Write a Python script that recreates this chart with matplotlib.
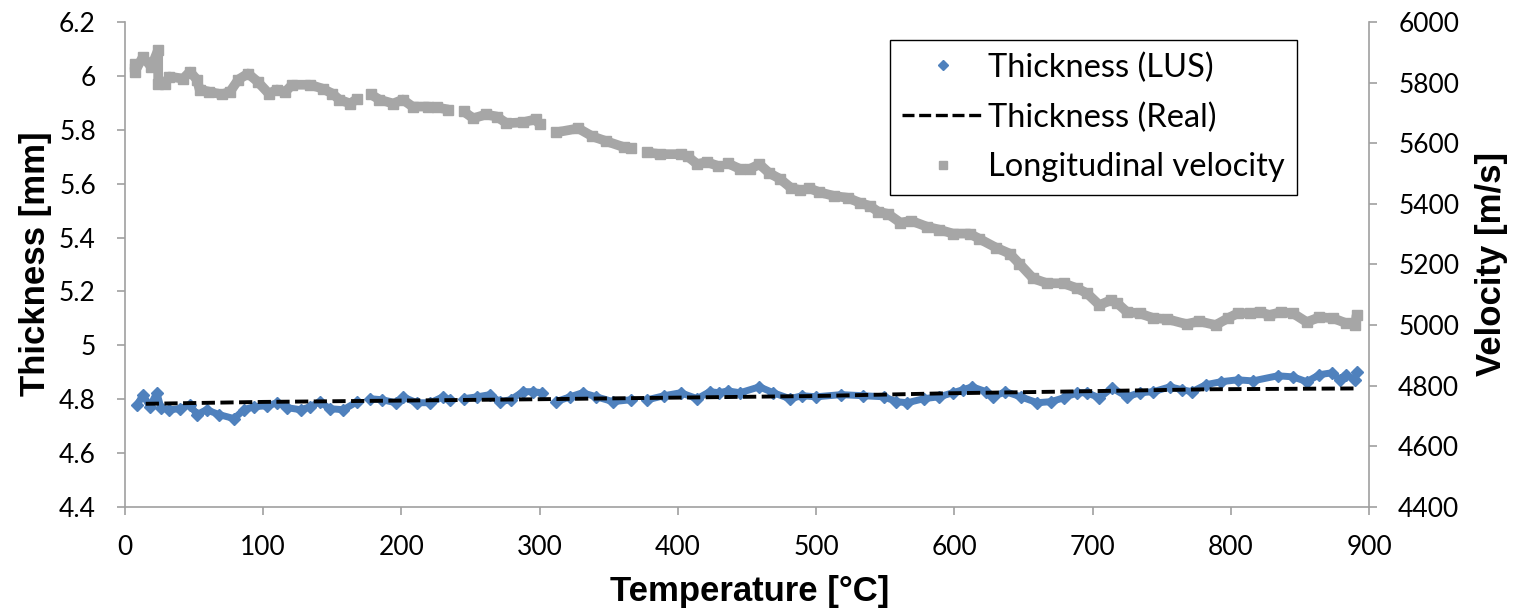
import numpy as np
import matplotlib
matplotlib.use("Agg")
import matplotlib.pyplot as plt
from matplotlib.lines import Line2D

# ---------------- data ----------------
vel_T = [7, 7, 13, 19, 24, 24, 29, 32, 42, 47, 52, 54, 61, 70, 76, 82, 89, 96, 104, 110,
         116, 121, 134, 143, 150, 155, 163, 168,
         178, 184, 194, 201, 208, 219, 226, 234,
         245, 252, 261, 269, 276, 288, 297, 300,
         312, 328, 338, 348, 361, 366,
         378, 387, 402, 407, 414, 421, 429,
         436, 445, 452, 459, 466, 474, 482, 488,
         495, 502, 513, 523, 532, 539, 545, 552, 561, 569, 580, 589, 599, 611, 618,
         630, 640, 647, 657, 667, 679, 689, 696, 705, 713, 718, 725, 734, 744, 754,
         768, 777, 789, 798, 805, 814, 821, 828, 836, 845, 855, 864, 874, 883, 890, 891]
vel_V = [5862, 5836, 5885, 5852, 5908, 5797, 5797, 5820, 5813, 5836, 5810, 5777, 5770, 5761,
         5770, 5810, 5830, 5803, 5764, 5777, 5770, 5793, 5793, 5780, 5764, 5744, 5731, 5747,
         5761, 5744, 5731, 5744, 5721, 5721, 5718, 5711,
         5705, 5682, 5695, 5688, 5666, 5669, 5679, 5662,
         5636, 5649, 5623, 5607, 5587, 5584,
         5570, 5564, 5564, 5557, 5531, 5538, 5525,
         5534, 5515, 5515, 5531, 5502, 5482, 5452, 5446,
         5452, 5439, 5426, 5420, 5403, 5393, 5374, 5367, 5338, 5344, 5325, 5315, 5302, 5302, 5285,
         5256, 5236, 5203, 5154, 5138, 5138, 5121, 5105, 5066, 5082, 5072, 5043, 5039, 5023, 5020,
         5003, 5013, 5000, 5023, 5039, 5039, 5043, 5033, 5043, 5039, 5010, 5026, 5023, 5007, 5000, 5033]
vel_gaps = [172, 239, 306, 371, 432, 491]

lus_T = [9, 13, 18, 23, 26, 32, 40, 47, 52, 59, 68, 79, 86, 93, 103, 110, 117, 127, 134, 141, 148, 158, 168,
         177, 186, 196, 201, 211, 221, 230, 235,
         245, 255, 264, 271, 279, 288, 295, 302,
         312, 322, 331, 341, 353, 366,
         378, 390, 402, 414, 423, 430, 436, 445, 459, 469, 481, 490, 500, 518, 534, 549, 558, 566,
         578, 589, 599, 606, 613, 623, 628, 637, 648, 660, 670, 679, 689, 696, 705, 714, 725, 734,
         744, 756, 765, 772, 782, 793, 805, 816, 834, 845, 855, 864, 873, 879, 883, 890, 891]
lus_mm = [4.780, 4.817, 4.772, 4.824, 4.769, 4.761, 4.765, 4.780, 4.743, 4.761, 4.743, 4.728, 4.761,
          4.772, 4.776, 4.787, 4.769, 4.761, 4.772, 4.791, 4.765, 4.761, 4.791,
          4.802, 4.798, 4.787, 4.809, 4.787, 4.787, 4.809, 4.798,
          4.802, 4.809, 4.817, 4.791, 4.798, 4.828, 4.828, 4.824,
          4.791, 4.809, 4.824, 4.809, 4.791, 4.798,
          4.798, 4.813, 4.824, 4.802, 4.828, 4.824, 4.831, 4.824, 4.846, 4.824, 4.802, 4.813, 4.809,
          4.817, 4.813, 4.809, 4.791, 4.787, 4.802, 4.809, 4.824, 4.835, 4.846, 4.828, 4.809, 4.828,
          4.809, 4.787, 4.791, 4.805, 4.824, 4.824, 4.805, 4.842, 4.809, 4.824, 4.828, 4.846, 4.835,
          4.828, 4.854, 4.865, 4.872, 4.868, 4.887, 4.883, 4.865, 4.891, 4.898, 4.872, 4.891, 4.872, 4.902]
lus_gaps = [172, 239, 306, 371]

real_T = [15, 100, 200, 300, 400, 500, 595, 675, 785, 891]
real_mm = [4.783, 4.790, 4.795, 4.800, 4.806, 4.812, 4.822, 4.828, 4.837, 4.840]

x_ticks = [0, 100, 200, 300, 400, 500, 600, 700, 800, 900]
left_ticks = [4.4, 4.6, 4.8, 5.0, 5.2, 5.4, 5.6, 5.8, 6.0, 6.2]
left_labels = ["4.4", "4.6", "4.8", "5", "5.2", "5.4", "5.6", "5.8", "6", "6.2"]
right_ticks = [4400, 4600, 4800, 5000, 5200, 5400, 5600, 5800, 6000]

BLUE = "#4F81BD"
GRAY = "#A6A6A6"
AXC = "#A0A0A0"
TICKFONT = "Lato"
LABELFONT = "Liberation Sans"


def segments(T, Y, gaps):
    T = np.asarray(T, float)
    Y = np.asarray(Y, float)
    edges = [-np.inf] + list(gaps) + [np.inf]
    for a, b in zip(edges[:-1], edges[1:]):
        m = (T > a) & (T < b)
        if m.any():
            yield T[m], Y[m]


W, H = 1518, 615
fig = plt.figure(figsize=(W / 100, H / 100), dpi=100)
ax = fig.add_axes([125 / W, 1 - 507 / H, 1244 / W, 485 / H])
ax2 = ax.twinx()

# thickness (LUS)
for t, y in segments(lus_T, lus_mm, lus_gaps):
    ax.plot(t, y, color=BLUE, lw=5.0, solid_capstyle="round", solid_joinstyle="round", zorder=3)
    ax.plot(t, y, ls="none", marker="D", ms=6.5, color=BLUE, mec=BLUE, zorder=3)
# thickness (Real)
ax.plot(real_T, real_mm, color="black", lw=2.8, dashes=(3.4, 1.4), zorder=4)

# longitudinal velocity
for t, y in segments(vel_T, vel_V, vel_gaps):
    ax2.plot(t, y, color=GRAY, lw=7.0, solid_capstyle="butt", solid_joinstyle="round", zorder=3)
    ax2.plot(t, y, ls="none", marker="s", ms=7.0, color=GRAY, mec=GRAY, zorder=3)

ax.set_xlim(0, 900)
ax.set_ylim(4.4, 6.2)
ax2.set_ylim(4400, 6000)
ax.set_xticks(x_ticks)
ax.set_xticklabels([str(v) for v in x_ticks])
ax.set_yticks(left_ticks)
ax.set_yticklabels(left_labels)
ax2.set_yticks(right_ticks)
ax2.set_yticklabels([str(v) for v in right_ticks])

for a in (ax, ax2):
    a.spines["top"].set_visible(False)
    for s in ("left", "right", "bottom"):
        a.spines[s].set_color(AXC)
        a.spines[s].set_linewidth(1.2)
ax.spines["right"].set_visible(False)
ax2.spines["left"].set_visible(False)
ax2.spines["bottom"].set_visible(False)

ax.tick_params(axis="both", direction="out", length=6, width=1.2, color=AXC,
               labelsize=19, labelcolor="black")
ax.tick_params(axis="y", pad=15)
ax.tick_params(axis="x", pad=14)
ax2.tick_params(axis="y", direction="out", length=6, width=1.2, color=AXC,
                labelsize=19, labelcolor="black", pad=15)
for lab in ax.get_xticklabels() + ax.get_yticklabels() + ax2.get_yticklabels():
    lab.set_fontfamily(TICKFONT)

fig.text(750 / W, 1 - 592 / H, "Temperature [°C]", ha="center", va="center",
         fontsize=25, fontweight="bold", family=LABELFONT)
fig.text(36 / W, 1 - 264 / H, "Thickness [mm]", ha="center", va="center", rotation=90,
         fontsize=25, fontweight="bold", family=LABELFONT)
fig.text(1491 / W, 1 - 264 / H, "Velocity [m/s]", ha="center", va="center", rotation=90,
         fontsize=25, fontweight="bold", family=LABELFONT)

handles = [
    Line2D([], [], ls="none", marker="D", ms=5.5, color=BLUE),
    Line2D([], [], color="black", lw=2.4, dashes=(3.6, 1.4)),
    Line2D([], [], ls="none", marker="s", ms=5.6, color=GRAY),
]
labels = ["Thickness (LUS)", "Thickness (Real)", "Longitudinal velocity"]
leg = ax2.legend(handles, labels, loc="upper left",
                 bbox_to_anchor=((890 - 125) / 1244, 1 - (40 - 22) / 485),
                 prop={"family": TICKFONT, "size": 23.5}, frameon=True, fancybox=False,
                 edgecolor="black", framealpha=1, borderpad=0.38, labelspacing=0.6,
                 handlelength=2.5, handletextpad=0.12, borderaxespad=0)
leg.get_frame().set_linewidth(1.0)
leg.set_zorder(10)

fig.savefig("out.png", dpi=100, facecolor="white")
